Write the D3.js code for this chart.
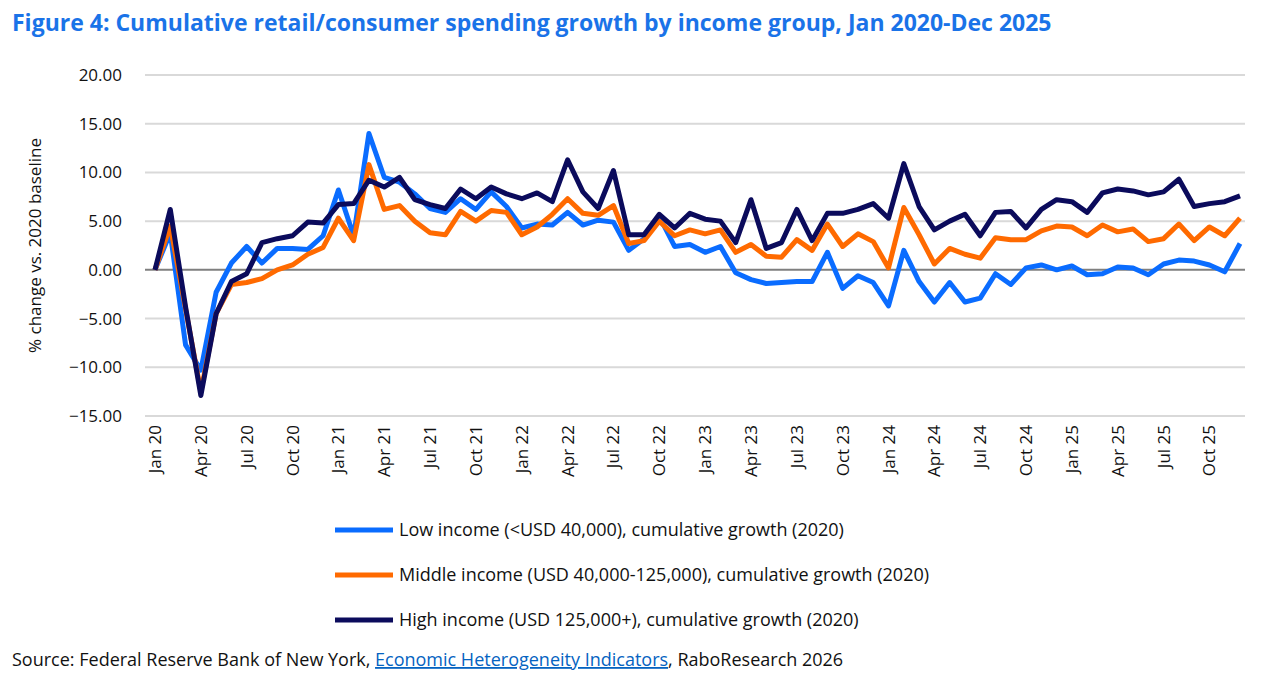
<!DOCTYPE html>
<html>
<head>
<meta charset="utf-8">
<script src="https://cdn.jsdelivr.net/npm/d3@7"></script>
<style>
  body { margin: 0; background: #fff; font-family: "Open Sans", "Noto Sans", sans-serif; }
</style>
</head>
<body>
<svg id="vis" width="1268" height="692"></svg>
<script>
const BLUE = "#0a6cff";
const ORANGE = "#ff6a00";
const NAVY = "#0b0b5c";
const TEXT = "#111";

const monthNames = ["Jan", "Feb", "Mar", "Apr", "May", "Jun", "Jul", "Aug", "Sep", "Oct", "Nov", "Dec"];
const years = [20, 21, 22, 23, 24, 25];
const yTicks = [20, 15, 10, 5, 0, -5, -10, -15];

const lowIncome = [0, 3.8, -7.7, -10.3, -2.3, 0.7, 2.4, 0.7, 2.2, 2.2, 2.1, 3.5,
  8.2, 3.5, 14.0, 9.5, 9.0, 7.8, 6.3, 5.9, 7.3, 6.2, 8.0, 6.5,
  4.3, 4.7, 4.6, 5.9, 4.6, 5.1, 4.9, 2.0, 3.2, 5.5, 2.4, 2.6,
  1.8, 2.4, -0.3, -1.0, -1.4, -1.3, -1.2, -1.2, 1.8, -1.9, -0.6, -1.3,
  -3.7, 2.0, -1.2, -3.3, -1.3, -3.3, -2.9, -0.4, -1.5, 0.2, 0.5, 0.0,
  0.4, -0.5, -0.4, 0.3, 0.2, -0.5, 0.6, 1.0, 0.9, 0.5, -0.2, 2.7];
const middleIncome = [0, 4.5, -4.0, -12.5, -4.5, -1.5, -1.3, -0.9, 0, 0.5, 1.6, 2.3,
  5.3, 3.0, 10.8, 6.2, 6.6, 5.0, 3.8, 3.6, 6.0, 5.0, 6.1, 5.9,
  3.6, 4.4, 5.7, 7.3, 5.8, 5.6, 6.6, 2.7, 3.0, 5.0, 3.5, 4.1,
  3.7, 4.1, 1.8, 2.6, 1.4, 1.3, 3.1, 2.0, 4.7, 2.4, 3.7, 2.9,
  0.2, 6.4, 3.6, 0.6, 2.2, 1.6, 1.2, 3.3, 3.1, 3.1, 4.0, 4.5,
  4.4, 3.5, 4.6, 3.9, 4.2, 2.9, 3.2, 4.7, 3.0, 4.4, 3.5, 5.3];
const highIncome = [0, 6.2, -3.8, -12.9, -4.5, -1.2, -0.4, 2.8, 3.2, 3.5, 4.9, 4.8,
  6.7, 6.8, 9.2, 8.5, 9.5, 7.2, 6.7, 6.3, 8.3, 7.3, 8.5, 7.8,
  7.3, 7.9, 7.0, 11.3, 8.0, 6.3, 10.2, 3.6, 3.6, 5.7, 4.3, 5.8,
  5.2, 5.0, 2.8, 7.2, 2.2, 2.8, 6.2, 3.0, 5.8, 5.8, 6.2, 6.8,
  5.3, 10.9, 6.5, 4.1, 5.0, 5.7, 3.5, 5.9, 6.0, 4.3, 6.2, 7.2,
  7.0, 5.9, 7.9, 8.3, 8.1, 7.7, 8.0, 9.3, 6.5, 6.8, 7.0, 7.6];

const months = years.flatMap(y => monthNames.map(m => `${m} ${y}`));
const series = [
  { name: "Low income (<USD 40,000), cumulative growth (2020)", values: lowIncome, color: BLUE },
  { name: "Middle income (USD 40,000-125,000), cumulative growth (2020)", values: middleIncome, color: ORANGE },
  { name: "High income (USD 125,000+), cumulative growth (2020)", values: highIncome, color: NAVY },
];

const svg = d3.select("#vis");
const plotLeft = 145, plotRight = 1245, plotTop = 75, plotBottom = 416;

const x = d3.scalePoint().domain(months).range([155, 1240]);
const y = d3.scaleLinear().domain([-15, 20]).range([plotBottom, plotTop]);

svg.append("text")
  .attr("x", 12).attr("y", 31)
  .attr("fill", "#1a73e8")
  .attr("font-size", 23).attr("font-weight", "bold")
  .text("Figure 4: Cumulative retail/consumer spending growth by income group, Jan 2020-Dec 2025");

// gridlines
svg.append("g").selectAll("line").data(yTicks).join("line")
  .attr("x1", plotLeft).attr("x2", plotRight)
  .attr("y1", d => y(d)).attr("y2", d => y(d))
  .attr("stroke", d => d === 0 ? "#7f7f7f" : "#d9d9d9")
  .attr("stroke-width", 2);

svg.append("g").selectAll("text").data(yTicks).join("text")
  .attr("x", 122).attr("y", d => y(d) + 6)
  .attr("text-anchor", "end")
  .attr("font-size", 17).attr("fill", TEXT)
  .text(d => d3.format(".2f")(d));

svg.append("text")
  .attr("transform", `translate(41,${(plotTop + plotBottom) / 2}) rotate(-90)`)
  .attr("text-anchor", "middle")
  .attr("font-size", 17).attr("fill", TEXT)
  .text("% change vs. 2020 baseline");

// x labels every 3 months
svg.append("g").selectAll("text")
  .data(months.filter((d, i) => i % 3 === 0)).join("text")
  .attr("transform", d => `translate(${x(d) + 6},425) rotate(-90)`)
  .attr("text-anchor", "end")
  .attr("font-size", 17).attr("fill", TEXT)
  .text(d => d);

const line = d3.line().x((d, i) => x(months[i])).y(d => y(d));

svg.append("g").selectAll("path").data(series).join("path")
  .attr("d", d => line(d.values))
  .attr("fill", "none")
  .attr("stroke", d => d.color)
  .attr("stroke-width", 5)
  .attr("stroke-linejoin", "round");

const legend = svg.append("g").selectAll("g").data(series).join("g")
  .attr("transform", (d, i) => `translate(335,${530 + i * 45})`);
legend.append("line").attr("x1", 0).attr("x2", 58)
  .attr("stroke", d => d.color).attr("stroke-width", 5);
legend.append("text").attr("x", 64).attr("y", 6)
  .attr("font-size", 18).attr("fill", TEXT)
  .text(d => d.name);

const src = svg.append("text").attr("x", 12).attr("y", 666)
  .attr("font-size", 18).attr("fill", TEXT);
src.append("tspan").text("Source: Federal Reserve Bank of New York, ");
src.append("tspan").attr("fill", "#0563c1").attr("text-decoration", "underline").text("Economic Heterogeneity Indicators");
src.append("tspan").text(", RaboResearch 2026");
</script>
</body>
</html>
